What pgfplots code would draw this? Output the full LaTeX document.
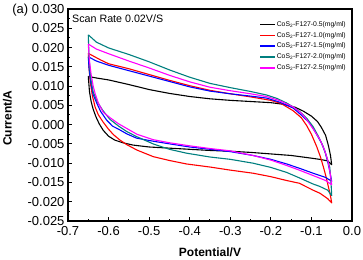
\documentclass[border=0pt]{standalone}
\usepackage{fontspec}
\setmainfont{Liberation Sans}
\usepackage{pgfplots}
\pgfplotsset{compat=1.18}
\definecolor{cvteal}{HTML}{007F7F}
\definecolor{cvmag}{HTML}{FF00FF}
\begin{document}
\begin{tikzpicture}
\useasboundingbox (-68pt,-38pt) rectangle (295pt,221pt);
\begin{axis}[
  name=ax,
  at={(0pt,0pt)}, anchor=south west,
  scale only axis, width=284pt, height=212pt,
  xmin=-0.7, xmax=0, ymin=-0.025, ymax=0.030,
  xtick={-0.7,-0.6,-0.5,-0.4,-0.3,-0.2,-0.1,0},
  ytick={-0.025,-0.020,-0.015,-0.010,-0.005,0,0.005,0.010,0.015,0.020,0.025,0.030},
  minor x tick num=1, minor y tick num=1,
  tick align=inside, tick pos=left,
  major tick length=4pt, minor tick length=2pt,
  axis line style={line width=1.2pt},
  every tick/.style={line width=1pt, black},
  scaled x ticks=false, scaled y ticks=false,
  /pgf/number format/assume math mode=true,
  ticklabel style={font=\fontsize{13}{15}\selectfont},
  xticklabel style={yshift=-1.6pt, /pgf/number format/.cd, fixed, fixed zerofill, precision=1},
  yticklabel style={/pgf/number format/.cd, fixed, fixed zerofill, precision=3},
  xlabel={Potential/V}, ylabel={Current/A},
  xlabel style={font=\fontsize{12}{14}\selectfont\bfseries, at={(axis description cs:0.5,-0.168)}, anchor=base},
  ylabel style={font=\fontsize{12}{14}\selectfont\bfseries, at={(axis description cs:-0.213,0.485)}, anchor=center},
  legend style={draw=none, fill=none, at={(axis description cs:0.992,0.957)}, anchor=north east,
    font=\fontsize{6.8}{8}\selectfont, row sep=2.9pt,
    nodes={inner sep=0.8pt, text height=5pt, text depth=1.4pt}},
  legend cell align=left,
  legend image code/.code={\draw[#1, line width=1.3pt] (0pt,0pt) -- (15pt,0pt);},
  every axis plot/.append style={line width=1.1pt, line join=round},
  clip=false,
]
% black 0.5
\addplot[black] coordinates {
(-0.650,0.0125)(-0.630,0.0121)(-0.600,0.0116)(-0.550,0.0104)(-0.500,0.0091)(-0.450,0.0081)
(-0.400,0.0073)(-0.350,0.0067)(-0.300,0.0063)(-0.250,0.0060)(-0.200,0.0057)(-0.170,0.0053)
(-0.140,0.0045)(-0.120,0.0035)(-0.100,0.0022)(-0.085,0.0008)(-0.075,-0.0008)(-0.065,-0.0028)
(-0.058,-0.0055)(-0.053,-0.0080)(-0.050,-0.0104)
(-0.060,-0.0094)(-0.080,-0.0090)(-0.100,-0.0087)(-0.150,-0.0080)(-0.200,-0.0076)(-0.250,-0.0072)
(-0.300,-0.0069)(-0.350,-0.0067)(-0.400,-0.0064)(-0.450,-0.0061)(-0.500,-0.0058)(-0.540,-0.0053)
(-0.565,-0.0047)(-0.585,-0.0040)(-0.600,-0.0030)(-0.613,-0.0015)(-0.623,0.0002)(-0.631,0.0020)
(-0.638,0.0040)(-0.643,0.0060)(-0.647,0.0085)(-0.650,0.0125)
};
\addlegendentry{CoS\textsubscript{2}-F127-0.5(mg/ml)}
% red 1.0
\addplot[red] coordinates {
(-0.650,0.0185)(-0.620,0.0168)(-0.600,0.0158)(-0.550,0.0145)(-0.500,0.0130)(-0.450,0.0115)
(-0.400,0.0101)(-0.350,0.0089)(-0.300,0.0080)(-0.250,0.0072)(-0.200,0.0063)(-0.175,0.0055)
(-0.145,0.0036)(-0.125,0.0018)(-0.112,-0.0002)(-0.100,-0.0025)(-0.087,-0.0057)(-0.078,-0.0083)
(-0.071,-0.0108)(-0.064,-0.0135)(-0.058,-0.0162)(-0.053,-0.0185)(-0.050,-0.0203)
(-0.060,-0.0192)(-0.079,-0.0178)(-0.096,-0.0170)(-0.130,-0.0152)(-0.161,-0.0145)(-0.200,-0.0135)
(-0.244,-0.0126)(-0.300,-0.0118)(-0.350,-0.0110)(-0.408,-0.0102)(-0.450,-0.0093)(-0.490,-0.0083)
(-0.530,-0.0066)(-0.555,-0.0052)(-0.572,-0.0040)(-0.588,-0.0026)(-0.600,-0.0012)(-0.613,0.0006)
(-0.625,0.0025)(-0.633,0.0045)(-0.640,0.0075)(-0.645,0.0110)(-0.648,0.0145)(-0.650,0.0185)
};
\addlegendentry{CoS\textsubscript{2}-F127-1.0(mg/ml)}
% blue 1.5
\addplot[blue] coordinates {
(-0.650,0.0176)(-0.630,0.0165)(-0.600,0.0154)(-0.550,0.0140)(-0.500,0.0126)(-0.450,0.0112)
(-0.400,0.0098)(-0.350,0.0087)(-0.300,0.0080)(-0.250,0.0074)(-0.211,0.0069)(-0.180,0.0059)
(-0.145,0.0043)(-0.125,0.0025)(-0.104,0.0004)(-0.090,-0.0020)(-0.075,-0.0048)(-0.066,-0.0072)
(-0.059,-0.0100)(-0.054,-0.0125)(-0.050,-0.0147)
(-0.065,-0.0137)(-0.096,-0.0126)(-0.130,-0.0113)(-0.161,-0.0102)(-0.200,-0.0090)(-0.244,-0.0080)
(-0.300,-0.0070)(-0.350,-0.0064)(-0.400,-0.0058)(-0.449,-0.0050)(-0.490,-0.0043)(-0.531,-0.0035)
(-0.555,-0.0024)(-0.575,-0.0012)(-0.590,-0.0004)(-0.605,0.0012)(-0.620,0.0035)(-0.630,0.0058)
(-0.638,0.0078)(-0.644,0.0110)(-0.648,0.0145)(-0.650,0.0176)
};
\addlegendentry{CoS\textsubscript{2}-F127-1.5(mg/ml)}
% teal 2.0
\addplot[cvteal] coordinates {
(-0.650,0.0233)(-0.630,0.0214)(-0.600,0.0199)(-0.550,0.0182)(-0.500,0.0163)(-0.450,0.0142)
(-0.400,0.0123)(-0.350,0.0107)(-0.300,0.0096)(-0.250,0.0086)(-0.211,0.0077)(-0.185,0.0068)
(-0.161,0.0056)(-0.145,0.0046)(-0.129,0.0034)(-0.112,0.0017)(-0.096,-0.0005)(-0.083,-0.0030)
(-0.071,-0.0057)(-0.062,-0.0085)(-0.055,-0.0110)(-0.052,-0.0145)(-0.050,-0.0184)
(-0.060,-0.0170)(-0.080,-0.0160)(-0.096,-0.0154)(-0.130,-0.0138)(-0.161,-0.0124)(-0.200,-0.0111)
(-0.244,-0.0100)(-0.300,-0.0090)(-0.350,-0.0084)(-0.408,-0.0074)(-0.450,-0.0064)(-0.490,-0.0050)
(-0.531,-0.0031)(-0.555,-0.0018)(-0.575,-0.0004)(-0.597,0.0014)(-0.615,0.0038)(-0.628,0.0060)
(-0.638,0.0085)(-0.644,0.0120)(-0.648,0.0170)(-0.650,0.0233)
};
\addlegendentry{CoS\textsubscript{2}-F127-2.0(mg/ml)}
% magenta 2.5
\addplot[cvmag] coordinates {
(-0.650,0.0209)(-0.630,0.0196)(-0.600,0.0184)(-0.550,0.0165)(-0.500,0.0147)(-0.450,0.0128)
(-0.400,0.0111)(-0.350,0.0097)(-0.300,0.0088)(-0.250,0.0080)(-0.211,0.0073)(-0.180,0.0063)
(-0.145,0.0046)(-0.125,0.0030)(-0.112,0.0013)(-0.095,-0.0012)(-0.079,-0.0039)(-0.068,-0.0065)
(-0.059,-0.0095)(-0.054,-0.0125)(-0.050,-0.0156)
(-0.065,-0.0145)(-0.096,-0.0132)(-0.130,-0.0118)(-0.161,-0.0106)(-0.200,-0.0092)(-0.244,-0.0080)
(-0.300,-0.0068)(-0.350,-0.0062)(-0.400,-0.0055)(-0.450,-0.0047)(-0.490,-0.0039)(-0.530,-0.0025)
(-0.555,-0.0010)(-0.575,0.0002)(-0.595,0.0017)(-0.613,0.0032)(-0.625,0.0055)(-0.633,0.0080)
(-0.638,0.0100)(-0.643,0.0130)(-0.647,0.0165)(-0.650,0.0209)
};
\addlegendentry{CoS\textsubscript{2}-F127-2.5(mg/ml)}
\node[anchor=base west, font=\fontsize{10.7}{12}\selectfont, inner sep=0pt] at (axis description cs:0.014,0.934) {Scan Rate 0.02V/S};
\node[anchor=base west, font=\fontsize{13}{15}\selectfont, inner sep=0pt] at (axis description cs:-0.197,0.978) {(a)};
\end{axis}
\end{tikzpicture}
\end{document}
